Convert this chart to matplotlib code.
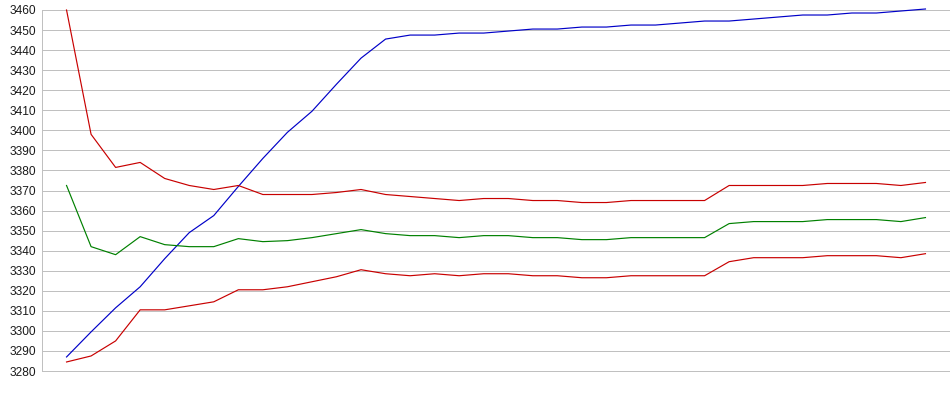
import numpy as np
import matplotlib
matplotlib.use('Agg')
from matplotlib import pyplot as plt

plt.rcParams['font.family'] = ['Liberation Sans', 'DejaVu Sans']

# values, one point per step
upper_red = [3460, 3398, 3381.5, 3384, 3376, 3372.5, 3370.5, 3372.5, 3368, 3368,
             3368, 3369, 3370.5, 3368, 3367, 3366, 3365, 3366, 3366, 3365,
             3365, 3364, 3364, 3365, 3365, 3365, 3365, 3372.5, 3372.5, 3372.5,
             3372.5, 3373.5, 3373.5, 3373.5, 3372.5, 3374]
green = [3372.5, 3342, 3338, 3347, 3343, 3342, 3342, 3346, 3344.5, 3345,
         3346.5, 3348.5, 3350.5, 3348.5, 3347.5, 3347.5, 3346.5, 3347.5, 3347.5, 3346.5,
         3346.5, 3345.5, 3345.5, 3346.5, 3346.5, 3346.5, 3346.5, 3353.5, 3354.5, 3354.5,
         3354.5, 3355.5, 3355.5, 3355.5, 3354.5, 3356.5]
lower_red = [3284.5, 3287.5, 3295, 3310.5, 3310.5, 3312.5, 3314.5, 3320.5, 3320.5, 3322,
             3324.5, 3327, 3330.5, 3328.5, 3327.5, 3328.5, 3327.5, 3328.5, 3328.5, 3327.5,
             3327.5, 3326.5, 3326.5, 3327.5, 3327.5, 3327.5, 3327.5, 3334.5, 3336.5, 3336.5,
             3336.5, 3337.5, 3337.5, 3337.5, 3336.5, 3338.5]
blue = [3287, 3299.5, 3311.5, 3322, 3336, 3349, 3357.5, 3372, 3386, 3399,
        3409.5, 3423, 3436, 3445.5, 3447.5, 3447.5, 3448.5, 3448.5, 3449.5, 3450.5,
        3450.5, 3451.5, 3451.5, 3452.5, 3452.5, 3453.5, 3454.5, 3454.5, 3455.5, 3456.5,
        3457.5, 3457.5, 3458.5, 3458.5, 3459.5, 3460.5]
y_ticks = list(range(3280, 3461, 10))

x = np.arange(len(blue))

fig = plt.figure(figsize=(9.5, 3.95), dpi=100)
ax = fig.add_axes([42 / 950, 24 / 395, 908 / 950, 361 / 395])

px = 0.72  # one pixel at 100 dpi
grid_col = '#c0c0c0'
for ys, col in [(blue, '#0000c8'), (upper_red, '#c80000'),
                (green, '#008000'), (lower_red, '#c80000')]:
    ax.plot(x, ys, color=col, lw=0.85, clip_on=False, zorder=3)

ax.set_xlim(-1, len(blue))
ax.set_ylim(3280, 3460)
ax.set_yticks(y_ticks)
ax.set_yticklabels([str(v) for v in y_ticks], fontsize=8.6, color='#1a1a1a')
ax.set_xticks([])
ax.tick_params(axis='y', length=0, pad=4)
ax.yaxis.grid(True, color=grid_col, lw=px, antialiased=False)
for gl in ax.get_ygridlines():
    gl.set_clip_on(False)
ax.set_axisbelow(True)

for side in ['top', 'right', 'bottom']:
    ax.spines[side].set_visible(False)
ax.spines['left'].set_color(grid_col)
ax.spines['left'].set_linewidth(px)

fig.savefig('out.png', dpi=100)
